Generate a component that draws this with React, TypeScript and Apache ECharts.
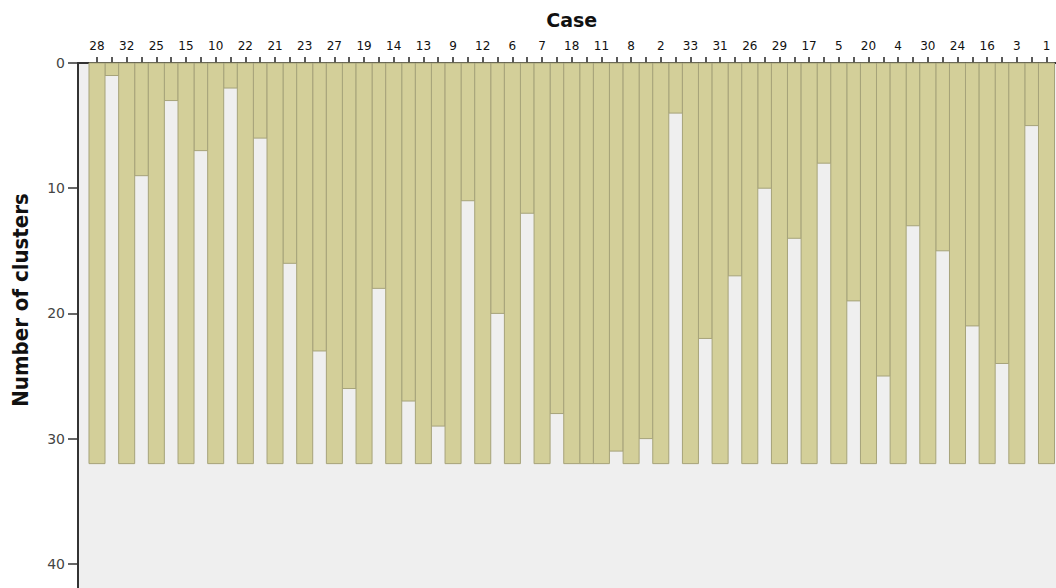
import React, { useEffect, useRef } from "react";
import * as echarts from "echarts";

// Cases in dendrogram (icicle) order, left to right
const caseLabels: string[] = [
  "28", "32", "25", "15", "10", "22", "21", "23", "27", "19", "14", "13", "9",
  "12", "6", "7", "18", "11", "8", "2", "33", "31", "26", "29", "17", "5", "20",
  "4", "30", "24", "16", "3", "1",
];
// Every case column runs down to this number of clusters
const caseDepth = 32;
// Number of clusters down to which each neighbouring pair stays joined
const joinLevels: number[] = [
  1, 9, 3, 7, 2, 6, 16, 23, 26, 18, 27, 29, 11, 20, 12, 28, 32, 31, 30, 4, 22,
  17, 10, 14, 8, 19, 25, 13, 15, 21, 24, 5,
];
const yTicks: number[] = [0, 10, 20, 30, 40];
const xTitle = "Case";
const yTitle = "Number of clusters";

const FILL = "#d3cf99";
const EDGE = "#a6a37a";

export default function App() {
  const ref = useRef<HTMLDivElement>(null);

  useEffect(() => {
    if (!ref.current) return;
    const chart = echarts.init(ref.current, undefined, { renderer: "svg" });

    const caseData = caseLabels.map((_, i) => [2 * i, caseDepth]);
    const joinData = joinLevels.map((v, j) => [2 * j + 1, v]);

    const makeRender = (ratio: number) => (params: any, api: any) => {
      const x = api.value(0);
      const v = api.value(1);
      const p0 = api.coord([x, 0]);
      const p1 = api.coord([x, v]);
      const slot = api.size([1, 0])[0];
      const w = slot * ratio;
      return {
        type: "rect",
        shape: { x: p0[0] - w / 2, y: p0[1], width: w, height: p1[1] - p0[1] },
        style: { fill: FILL, stroke: EDGE, lineWidth: 1 },
      };
    };

    const slotPx = 949.5 / 64;
    const xMin = -(97 - 78) / slotPx;
    const xMax = 64 - xMin;
    const gridWidth = (xMax - xMin) * slotPx;

    chart.setOption({
      animation: false,
      grid: [
        {
          left: 78,
          top: 63,
          width: gridWidth,
          height: 626,
          show: true,
          backgroundColor: "#efefef",
          borderWidth: 0,
          containLabel: false,
          outerBoundsMode: "none",
        },
        {
          left: 97,
          top: 63,
          width: 949.5,
          height: 100,
          show: false,
          containLabel: false,
          outerBoundsMode: "none",
        },
      ],
      graphic: [
        {
          type: "text",
          x: 20,
          y: 300,
          rotation: Math.PI / 2,
          style: {
            text: yTitle,
            fontFamily: "'DejaVu Sans Condensed', 'Liberation Sans Narrow', sans-serif",
            fontWeight: "bold",
            fontSize: 22,
            fill: "#111",
            align: "center",
            verticalAlign: "middle",
          },
        },
      ],
      xAxis: [
        {
          gridIndex: 0,
          type: "value",
          position: "top",
          min: xMin,
          max: xMax,
          name: xTitle,
          nameLocation: "middle",
          nameGap: 34,
          nameTextStyle: {
            fontFamily: "DejaVu Sans",
            fontWeight: "bold",
            fontSize: 19,
            color: "#111",
          },
          axisLine: { show: true, onZero: false, lineStyle: { color: "#333", width: 2 } },
          axisTick: { show: false },
          axisLabel: { show: false },
          splitLine: { show: false },
        },
        {
          gridIndex: 1,
          type: "value",
          position: "top",
          min: 0,
          max: 64,
          interval: 1,
          axisLine: { show: false, onZero: false },
          axisTick: { show: true, length: 6, lineStyle: { color: "#222", width: 1.5 } },
          axisLabel: {
            show: true,
            margin: 11,
            fontFamily: "DejaVu Sans",
            fontSize: 12,
            color: "#111",
            formatter: (v: number) =>
              Math.round(v) % 2 === 0 ? caseLabels[Math.round(v) / 2] ?? "" : "",
          },
          splitLine: { show: false },
        },
      ],
      yAxis: [
        {
          gridIndex: 0,
          type: "value",
          inverse: true,
          min: 0,
          max: 50,
          interval: 10,
          axisLine: { show: true, onZero: false, lineStyle: { color: "#333", width: 2 } },
          axisTick: { show: true, length: 10, lineStyle: { color: "#333", width: 1.5 } },
          axisLabel: {
            margin: 13,
            fontFamily: "DejaVu Sans",
            fontSize: 14,
            color: "#444",
            formatter: (v: number) => (yTicks.includes(v) ? String(v) : ""),
          },
          splitLine: { show: false },
        },
        {
          gridIndex: 1,
          type: "value",
          show: false,
          min: 0,
          max: 1,
          axisLine: { show: false, onZero: false },
        },
      ],
      series: [
        {
          name: "Joins",
          type: "custom",
          xAxisIndex: 0,
          yAxisIndex: 0,
          renderItem: makeRender(0.92),
          data: joinData,
          encode: { x: 0, y: 1 },
        },
        {
          name: "Cases",
          type: "custom",
          xAxisIndex: 0,
          yAxisIndex: 0,
          renderItem: makeRender(1.08),
          data: caseData,
          encode: { x: 0, y: 1 },
        },
      ],
    });

    return () => chart.dispose();
  }, []);

  return (
    <div
      ref={ref}
      style={{
        position: "fixed",
        left: 0,
        top: 0,
        width: 1056,
        height: 588,
        background: "#ffffff",
      }}
    />
  );
}
